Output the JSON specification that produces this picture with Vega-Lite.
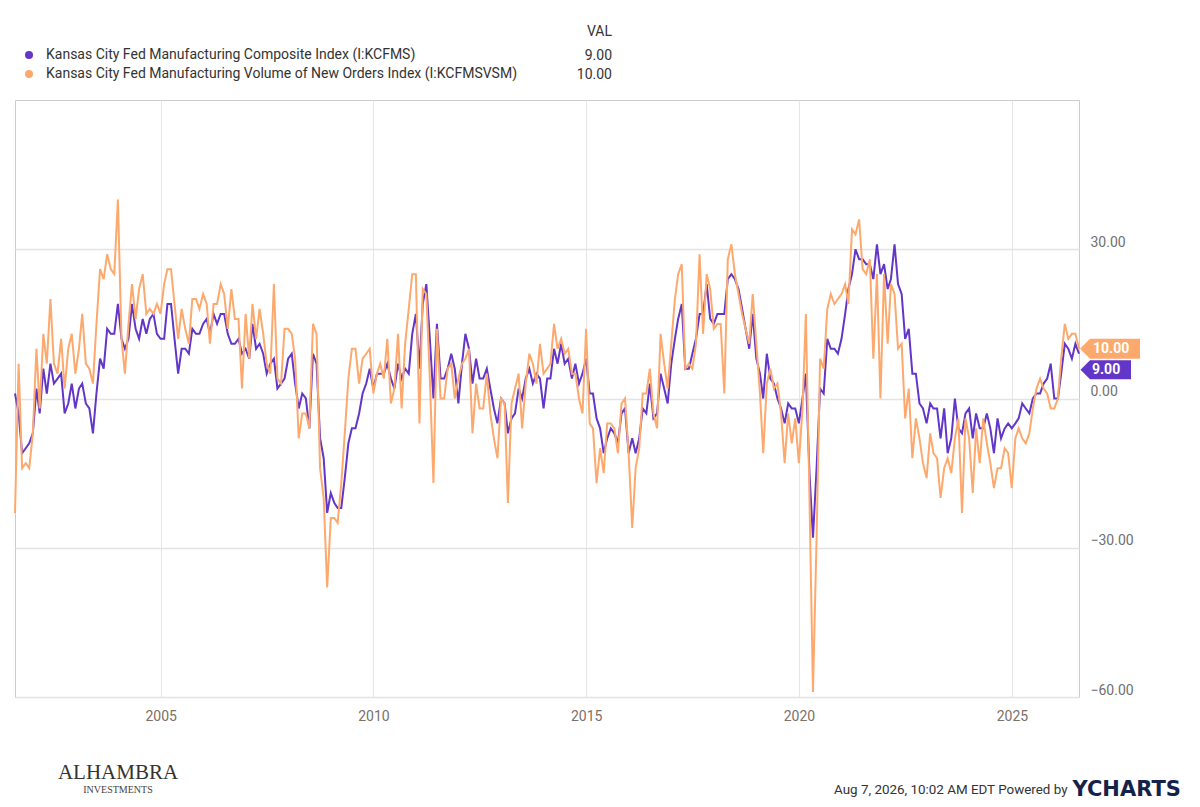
{
  "$schema": "https://vega.github.io/schema/vega-lite/v6.json",
  "width": 1064,
  "height": 597,
  "autosize": {"type": "none"},
  "padding": {"left": 15, "top": 100, "right": 121, "bottom": 110},
  "background": "#ffffff",
  "config": {"view": {"stroke": "#cccccc", "strokeWidth": 1}, "font": "Roboto"},
  "title": {
    "text": "ALHAMBRA",
    "subtitle": "INVESTMENTS",
    "orient": "bottom",
    "anchor": "middle",
    "dx": -429,
    "offset": -37,
    "font": "Liberation Serif",
    "fontSize": 21,
    "fontWeight": "normal",
    "color": "#333333",
    "subtitleFont": "Liberation Serif",
    "subtitleFontSize": 10,
    "subtitleColor": "#444444",
    "subtitlePadding": 2
  },
  "datasets": {
    "kc": [
      {"d":"2001-07-31","kcfms":1,"kcfmsvsm":-23},
      {"d":"2001-08-31","kcfms":-3,"kcfmsvsm":7},
      {"d":"2001-09-30","kcfms":-11,"kcfmsvsm":-14},
      {"d":"2001-10-31","kcfms":-10,"kcfmsvsm":-13},
      {"d":"2001-11-30","kcfms":-9,"kcfmsvsm":-14},
      {"d":"2001-12-31","kcfms":-7,"kcfmsvsm":-7},
      {"d":"2002-01-31","kcfms":2,"kcfmsvsm":10},
      {"d":"2002-02-28","kcfms":-3,"kcfmsvsm":-2},
      {"d":"2002-03-31","kcfms":6,"kcfmsvsm":13},
      {"d":"2002-04-30","kcfms":1,"kcfmsvsm":7},
      {"d":"2002-05-31","kcfms":7,"kcfmsvsm":20},
      {"d":"2002-06-30","kcfms":3,"kcfmsvsm":7},
      {"d":"2002-07-31","kcfms":4,"kcfmsvsm":5},
      {"d":"2002-08-31","kcfms":5,"kcfmsvsm":12},
      {"d":"2002-09-30","kcfms":-3,"kcfmsvsm":2},
      {"d":"2002-10-31","kcfms":-1,"kcfmsvsm":10},
      {"d":"2002-11-30","kcfms":3,"kcfmsvsm":13},
      {"d":"2002-12-31","kcfms":-2,"kcfmsvsm":5},
      {"d":"2003-01-31","kcfms":2,"kcfmsvsm":10},
      {"d":"2003-02-28","kcfms":3,"kcfmsvsm":17},
      {"d":"2003-03-31","kcfms":-1,"kcfmsvsm":7},
      {"d":"2003-04-30","kcfms":-2,"kcfmsvsm":6},
      {"d":"2003-05-31","kcfms":-7,"kcfmsvsm":3},
      {"d":"2003-06-30","kcfms":1,"kcfmsvsm":15},
      {"d":"2003-07-31","kcfms":8,"kcfmsvsm":26},
      {"d":"2003-08-31","kcfms":6,"kcfmsvsm":24},
      {"d":"2003-09-30","kcfms":14,"kcfmsvsm":29},
      {"d":"2003-10-31","kcfms":13,"kcfmsvsm":26},
      {"d":"2003-11-30","kcfms":13,"kcfmsvsm":25},
      {"d":"2003-12-31","kcfms":19,"kcfmsvsm":40},
      {"d":"2004-01-31","kcfms":12,"kcfmsvsm":12},
      {"d":"2004-02-29","kcfms":10,"kcfmsvsm":5},
      {"d":"2004-03-31","kcfms":12,"kcfmsvsm":15},
      {"d":"2004-04-30","kcfms":19,"kcfmsvsm":23},
      {"d":"2004-05-31","kcfms":14,"kcfmsvsm":16},
      {"d":"2004-06-30","kcfms":12,"kcfmsvsm":22},
      {"d":"2004-07-31","kcfms":16,"kcfmsvsm":25},
      {"d":"2004-08-31","kcfms":13,"kcfmsvsm":17},
      {"d":"2004-09-30","kcfms":16,"kcfmsvsm":18},
      {"d":"2004-10-31","kcfms":17,"kcfmsvsm":17},
      {"d":"2004-11-30","kcfms":13,"kcfmsvsm":19},
      {"d":"2004-12-31","kcfms":12,"kcfmsvsm":17},
      {"d":"2005-01-31","kcfms":12,"kcfmsvsm":23},
      {"d":"2005-02-28","kcfms":19,"kcfmsvsm":26},
      {"d":"2005-03-31","kcfms":19,"kcfmsvsm":26},
      {"d":"2005-04-30","kcfms":12,"kcfmsvsm":19},
      {"d":"2005-05-31","kcfms":5,"kcfmsvsm":12},
      {"d":"2005-06-30","kcfms":10,"kcfmsvsm":18},
      {"d":"2005-07-31","kcfms":10,"kcfmsvsm":14},
      {"d":"2005-08-31","kcfms":9,"kcfmsvsm":11},
      {"d":"2005-09-30","kcfms":14,"kcfmsvsm":20},
      {"d":"2005-10-31","kcfms":13,"kcfmsvsm":20},
      {"d":"2005-11-30","kcfms":13,"kcfmsvsm":18},
      {"d":"2005-12-31","kcfms":15,"kcfmsvsm":21},
      {"d":"2006-01-31","kcfms":16,"kcfmsvsm":19},
      {"d":"2006-02-28","kcfms":13,"kcfmsvsm":11},
      {"d":"2006-03-31","kcfms":17,"kcfmsvsm":19},
      {"d":"2006-04-30","kcfms":15,"kcfmsvsm":19},
      {"d":"2006-05-31","kcfms":17,"kcfmsvsm":23},
      {"d":"2006-06-30","kcfms":17,"kcfmsvsm":21},
      {"d":"2006-07-31","kcfms":13,"kcfmsvsm":14},
      {"d":"2006-08-31","kcfms":11,"kcfmsvsm":22},
      {"d":"2006-09-30","kcfms":11,"kcfmsvsm":16},
      {"d":"2006-10-31","kcfms":12,"kcfmsvsm":16},
      {"d":"2006-11-30","kcfms":9,"kcfmsvsm":2},
      {"d":"2006-12-31","kcfms":10,"kcfmsvsm":17},
      {"d":"2007-01-31","kcfms":8,"kcfmsvsm":8},
      {"d":"2007-02-28","kcfms":15,"kcfmsvsm":19},
      {"d":"2007-03-31","kcfms":10,"kcfmsvsm":12},
      {"d":"2007-04-30","kcfms":11,"kcfmsvsm":18},
      {"d":"2007-05-31","kcfms":9,"kcfmsvsm":13},
      {"d":"2007-06-30","kcfms":5,"kcfmsvsm":7},
      {"d":"2007-07-31","kcfms":7,"kcfmsvsm":5},
      {"d":"2007-08-31","kcfms":8,"kcfmsvsm":23},
      {"d":"2007-09-30","kcfms":2,"kcfmsvsm":4},
      {"d":"2007-10-31","kcfms":3,"kcfmsvsm":3},
      {"d":"2007-11-30","kcfms":4,"kcfmsvsm":14},
      {"d":"2007-12-31","kcfms":8,"kcfmsvsm":14},
      {"d":"2008-01-31","kcfms":9,"kcfmsvsm":13},
      {"d":"2008-02-29","kcfms":3,"kcfmsvsm":8},
      {"d":"2008-03-31","kcfms":-2,"kcfmsvsm":-8},
      {"d":"2008-04-30","kcfms":1,"kcfmsvsm":-3},
      {"d":"2008-05-31","kcfms":0,"kcfmsvsm":-3},
      {"d":"2008-06-30","kcfms":-6,"kcfmsvsm":-6},
      {"d":"2008-07-31","kcfms":9,"kcfmsvsm":15},
      {"d":"2008-08-31","kcfms":7,"kcfmsvsm":13},
      {"d":"2008-09-30","kcfms":-8,"kcfmsvsm":-14},
      {"d":"2008-10-31","kcfms":-12,"kcfmsvsm":-20},
      {"d":"2008-11-30","kcfms":-23,"kcfmsvsm":-38},
      {"d":"2008-12-31","kcfms":-19,"kcfmsvsm":-24},
      {"d":"2009-01-31","kcfms":-21,"kcfmsvsm":-24},
      {"d":"2009-02-28","kcfms":-22,"kcfmsvsm":-25},
      {"d":"2009-03-31","kcfms":-22,"kcfmsvsm":-17},
      {"d":"2009-04-30","kcfms":-16,"kcfmsvsm":-7},
      {"d":"2009-05-31","kcfms":-9,"kcfmsvsm":4},
      {"d":"2009-06-30","kcfms":-6,"kcfmsvsm":10},
      {"d":"2009-07-31","kcfms":-6,"kcfmsvsm":10},
      {"d":"2009-08-31","kcfms":-3,"kcfmsvsm":3},
      {"d":"2009-09-30","kcfms":1,"kcfmsvsm":8},
      {"d":"2009-10-31","kcfms":3,"kcfmsvsm":9},
      {"d":"2009-11-30","kcfms":6,"kcfmsvsm":10},
      {"d":"2009-12-31","kcfms":2,"kcfmsvsm":1},
      {"d":"2010-01-31","kcfms":5,"kcfmsvsm":5},
      {"d":"2010-02-28","kcfms":5,"kcfmsvsm":7},
      {"d":"2010-03-31","kcfms":5,"kcfmsvsm":4},
      {"d":"2010-04-30","kcfms":7,"kcfmsvsm":12},
      {"d":"2010-05-31","kcfms":4,"kcfmsvsm":-1},
      {"d":"2010-06-30","kcfms":2,"kcfmsvsm":2},
      {"d":"2010-07-31","kcfms":7,"kcfmsvsm":13},
      {"d":"2010-08-31","kcfms":4,"kcfmsvsm":-2},
      {"d":"2010-09-30","kcfms":6,"kcfmsvsm":11},
      {"d":"2010-10-31","kcfms":5,"kcfmsvsm":18},
      {"d":"2010-11-30","kcfms":13,"kcfmsvsm":25},
      {"d":"2010-12-31","kcfms":17,"kcfmsvsm":25},
      {"d":"2011-01-31","kcfms":6,"kcfmsvsm":-5},
      {"d":"2011-02-28","kcfms":19,"kcfmsvsm":22},
      {"d":"2011-03-31","kcfms":23,"kcfmsvsm":21},
      {"d":"2011-04-30","kcfms":12,"kcfmsvsm":4},
      {"d":"2011-05-31","kcfms":0,"kcfmsvsm":-17},
      {"d":"2011-06-30","kcfms":15,"kcfmsvsm":14},
      {"d":"2011-07-31","kcfms":4,"kcfmsvsm":0},
      {"d":"2011-08-31","kcfms":4,"kcfmsvsm":0},
      {"d":"2011-09-30","kcfms":6,"kcfmsvsm":6},
      {"d":"2011-10-31","kcfms":9,"kcfmsvsm":7},
      {"d":"2011-11-30","kcfms":6,"kcfmsvsm":0},
      {"d":"2011-12-31","kcfms":-1,"kcfmsvsm":4},
      {"d":"2012-01-31","kcfms":7,"kcfmsvsm":7},
      {"d":"2012-02-29","kcfms":13,"kcfmsvsm":8},
      {"d":"2012-03-31","kcfms":10,"kcfmsvsm":10},
      {"d":"2012-04-30","kcfms":3,"kcfmsvsm":-7},
      {"d":"2012-05-31","kcfms":8,"kcfmsvsm":3},
      {"d":"2012-06-30","kcfms":4,"kcfmsvsm":-2},
      {"d":"2012-07-31","kcfms":4,"kcfmsvsm":-2},
      {"d":"2012-08-31","kcfms":6,"kcfmsvsm":5},
      {"d":"2012-09-30","kcfms":2,"kcfmsvsm":-3},
      {"d":"2012-10-31","kcfms":-2,"kcfmsvsm":-8},
      {"d":"2012-11-30","kcfms":-5,"kcfmsvsm":-12},
      {"d":"2012-12-31","kcfms":0,"kcfmsvsm":0},
      {"d":"2013-01-31","kcfms":-1,"kcfmsvsm":-1},
      {"d":"2013-02-28","kcfms":-7,"kcfmsvsm":-21},
      {"d":"2013-03-31","kcfms":-4,"kcfmsvsm":-1},
      {"d":"2013-04-30","kcfms":-3,"kcfmsvsm":2},
      {"d":"2013-05-31","kcfms":2,"kcfmsvsm":5},
      {"d":"2013-06-30","kcfms":0,"kcfmsvsm":-6},
      {"d":"2013-07-31","kcfms":4,"kcfmsvsm":3},
      {"d":"2013-08-31","kcfms":6,"kcfmsvsm":9},
      {"d":"2013-09-30","kcfms":3,"kcfmsvsm":7},
      {"d":"2013-10-31","kcfms":5,"kcfmsvsm":3},
      {"d":"2013-11-30","kcfms":4,"kcfmsvsm":11},
      {"d":"2013-12-31","kcfms":-2,"kcfmsvsm":5},
      {"d":"2014-01-31","kcfms":4,"kcfmsvsm":6},
      {"d":"2014-02-28","kcfms":4,"kcfmsvsm":7},
      {"d":"2014-03-31","kcfms":10,"kcfmsvsm":15},
      {"d":"2014-04-30","kcfms":7,"kcfmsvsm":10},
      {"d":"2014-05-31","kcfms":11,"kcfmsvsm":12},
      {"d":"2014-06-30","kcfms":7,"kcfmsvsm":9},
      {"d":"2014-07-31","kcfms":8,"kcfmsvsm":10},
      {"d":"2014-08-31","kcfms":4,"kcfmsvsm":5},
      {"d":"2014-09-30","kcfms":7,"kcfmsvsm":5},
      {"d":"2014-10-31","kcfms":3,"kcfmsvsm":0},
      {"d":"2014-11-30","kcfms":5,"kcfmsvsm":-3},
      {"d":"2014-12-31","kcfms":8,"kcfmsvsm":14},
      {"d":"2015-01-31","kcfms":1,"kcfmsvsm":-5},
      {"d":"2015-02-28","kcfms":1,"kcfmsvsm":-6},
      {"d":"2015-03-31","kcfms":-4,"kcfmsvsm":-17},
      {"d":"2015-04-30","kcfms":-6,"kcfmsvsm":-10},
      {"d":"2015-05-31","kcfms":-11,"kcfmsvsm":-15},
      {"d":"2015-06-30","kcfms":-8,"kcfmsvsm":-5},
      {"d":"2015-07-31","kcfms":-6,"kcfmsvsm":-5},
      {"d":"2015-08-31","kcfms":-7,"kcfmsvsm":-6},
      {"d":"2015-09-30","kcfms":-9,"kcfmsvsm":-11},
      {"d":"2015-10-31","kcfms":-3,"kcfmsvsm":-1},
      {"d":"2015-11-30","kcfms":-2,"kcfmsvsm":0},
      {"d":"2015-12-31","kcfms":-11,"kcfmsvsm":-11},
      {"d":"2016-01-31","kcfms":-8,"kcfmsvsm":-26},
      {"d":"2016-02-29","kcfms":-11,"kcfmsvsm":-14},
      {"d":"2016-03-31","kcfms":-8,"kcfmsvsm":-10},
      {"d":"2016-04-30","kcfms":-2,"kcfmsvsm":1},
      {"d":"2016-05-31","kcfms":-3,"kcfmsvsm":1},
      {"d":"2016-06-30","kcfms":3,"kcfmsvsm":6},
      {"d":"2016-07-31","kcfms":-4,"kcfmsvsm":-3},
      {"d":"2016-08-31","kcfms":-3,"kcfmsvsm":-6},
      {"d":"2016-09-30","kcfms":5,"kcfmsvsm":13},
      {"d":"2016-10-31","kcfms":2,"kcfmsvsm":7},
      {"d":"2016-11-30","kcfms":-1,"kcfmsvsm":2},
      {"d":"2016-12-31","kcfms":7,"kcfmsvsm":11},
      {"d":"2017-01-31","kcfms":12,"kcfmsvsm":20},
      {"d":"2017-02-28","kcfms":16,"kcfmsvsm":25},
      {"d":"2017-03-31","kcfms":19,"kcfmsvsm":27},
      {"d":"2017-04-30","kcfms":6,"kcfmsvsm":6},
      {"d":"2017-05-31","kcfms":6,"kcfmsvsm":7},
      {"d":"2017-06-30","kcfms":9,"kcfmsvsm":6},
      {"d":"2017-07-31","kcfms":12,"kcfmsvsm":11},
      {"d":"2017-08-31","kcfms":17,"kcfmsvsm":29},
      {"d":"2017-09-30","kcfms":17,"kcfmsvsm":13},
      {"d":"2017-10-31","kcfms":23,"kcfmsvsm":25},
      {"d":"2017-11-30","kcfms":16,"kcfmsvsm":22},
      {"d":"2017-12-31","kcfms":15,"kcfmsvsm":14},
      {"d":"2018-01-31","kcfms":17,"kcfmsvsm":15},
      {"d":"2018-02-28","kcfms":17,"kcfmsvsm":15},
      {"d":"2018-03-31","kcfms":17,"kcfmsvsm":1},
      {"d":"2018-04-30","kcfms":24,"kcfmsvsm":28},
      {"d":"2018-05-31","kcfms":25,"kcfmsvsm":31},
      {"d":"2018-06-30","kcfms":24,"kcfmsvsm":25},
      {"d":"2018-07-31","kcfms":22,"kcfmsvsm":21},
      {"d":"2018-08-31","kcfms":18,"kcfmsvsm":17},
      {"d":"2018-09-30","kcfms":14,"kcfmsvsm":14},
      {"d":"2018-10-31","kcfms":10,"kcfmsvsm":11},
      {"d":"2018-11-30","kcfms":17,"kcfmsvsm":21},
      {"d":"2018-12-31","kcfms":8,"kcfmsvsm":11},
      {"d":"2019-01-31","kcfms":5,"kcfmsvsm":1},
      {"d":"2019-02-28","kcfms":0,"kcfmsvsm":-11},
      {"d":"2019-03-31","kcfms":9,"kcfmsvsm":3},
      {"d":"2019-04-30","kcfms":4,"kcfmsvsm":6},
      {"d":"2019-05-31","kcfms":3,"kcfmsvsm":2},
      {"d":"2019-06-30","kcfms":0,"kcfmsvsm":3},
      {"d":"2019-07-31","kcfms":-2,"kcfmsvsm":-3},
      {"d":"2019-08-31","kcfms":-5,"kcfmsvsm":-13},
      {"d":"2019-09-30","kcfms":-1,"kcfmsvsm":-3},
      {"d":"2019-10-31","kcfms":-2,"kcfmsvsm":-9},
      {"d":"2019-11-30","kcfms":-2,"kcfmsvsm":-4},
      {"d":"2019-12-31","kcfms":-5,"kcfmsvsm":-13},
      {"d":"2020-01-31","kcfms":0,"kcfmsvsm":-2},
      {"d":"2020-02-29","kcfms":5,"kcfmsvsm":17},
      {"d":"2020-03-31","kcfms":-15,"kcfmsvsm":-20},
      {"d":"2020-04-30","kcfms":-28,"kcfmsvsm":-59},
      {"d":"2020-05-31","kcfms":-14,"kcfmsvsm":-28},
      {"d":"2020-06-30","kcfms":2,"kcfmsvsm":8},
      {"d":"2020-07-31","kcfms":1,"kcfmsvsm":6},
      {"d":"2020-08-31","kcfms":12,"kcfmsvsm":18},
      {"d":"2020-09-30","kcfms":10,"kcfmsvsm":21},
      {"d":"2020-10-31","kcfms":10,"kcfmsvsm":19},
      {"d":"2020-11-30","kcfms":9,"kcfmsvsm":20},
      {"d":"2020-12-31","kcfms":12,"kcfmsvsm":21},
      {"d":"2021-01-31","kcfms":17,"kcfmsvsm":23},
      {"d":"2021-02-28","kcfms":22,"kcfmsvsm":19},
      {"d":"2021-03-31","kcfms":25,"kcfmsvsm":34},
      {"d":"2021-04-30","kcfms":30,"kcfmsvsm":33},
      {"d":"2021-05-31","kcfms":28,"kcfmsvsm":36},
      {"d":"2021-06-30","kcfms":28,"kcfmsvsm":26},
      {"d":"2021-07-31","kcfms":27,"kcfmsvsm":25},
      {"d":"2021-08-31","kcfms":27,"kcfmsvsm":28},
      {"d":"2021-09-30","kcfms":24,"kcfmsvsm":8},
      {"d":"2021-10-31","kcfms":31,"kcfmsvsm":25},
      {"d":"2021-11-30","kcfms":25,"kcfmsvsm":0},
      {"d":"2021-12-31","kcfms":27,"kcfmsvsm":25},
      {"d":"2022-01-31","kcfms":22,"kcfmsvsm":11},
      {"d":"2022-02-28","kcfms":24,"kcfmsvsm":23},
      {"d":"2022-03-31","kcfms":31,"kcfmsvsm":21},
      {"d":"2022-04-30","kcfms":23,"kcfmsvsm":10},
      {"d":"2022-05-31","kcfms":21,"kcfmsvsm":11},
      {"d":"2022-06-30","kcfms":12,"kcfmsvsm":-4},
      {"d":"2022-07-31","kcfms":14,"kcfmsvsm":2},
      {"d":"2022-08-31","kcfms":5,"kcfmsvsm":-12},
      {"d":"2022-09-30","kcfms":5,"kcfmsvsm":-4},
      {"d":"2022-10-31","kcfms":-1,"kcfmsvsm":-8},
      {"d":"2022-11-30","kcfms":-2,"kcfmsvsm":-13},
      {"d":"2022-12-31","kcfms":-5,"kcfmsvsm":-16},
      {"d":"2023-01-31","kcfms":-1,"kcfmsvsm":-7},
      {"d":"2023-02-28","kcfms":-2,"kcfmsvsm":-11},
      {"d":"2023-03-31","kcfms":-2,"kcfmsvsm":-12},
      {"d":"2023-04-30","kcfms":-8,"kcfmsvsm":-20},
      {"d":"2023-05-31","kcfms":-2,"kcfmsvsm":-14},
      {"d":"2023-06-30","kcfms":-11,"kcfmsvsm":-12},
      {"d":"2023-07-31","kcfms":-8,"kcfmsvsm":-15},
      {"d":"2023-08-31","kcfms":0,"kcfmsvsm":-8},
      {"d":"2023-09-30","kcfms":-6,"kcfmsvsm":-4},
      {"d":"2023-10-31","kcfms":-7,"kcfmsvsm":-23},
      {"d":"2023-11-30","kcfms":-3,"kcfmsvsm":-4},
      {"d":"2023-12-31","kcfms":-2,"kcfmsvsm":-8},
      {"d":"2024-01-31","kcfms":-8,"kcfmsvsm":-19},
      {"d":"2024-02-29","kcfms":-3,"kcfmsvsm":-6},
      {"d":"2024-03-31","kcfms":-6,"kcfmsvsm":-13},
      {"d":"2024-04-30","kcfms":-6,"kcfmsvsm":-4},
      {"d":"2024-05-31","kcfms":-3,"kcfmsvsm":-9},
      {"d":"2024-06-30","kcfms":-6,"kcfmsvsm":-13},
      {"d":"2024-07-31","kcfms":-11,"kcfmsvsm":-18},
      {"d":"2024-08-31","kcfms":-4,"kcfmsvsm":-14},
      {"d":"2024-09-30","kcfms":-8,"kcfmsvsm":-14},
      {"d":"2024-10-31","kcfms":-6,"kcfmsvsm":-10},
      {"d":"2024-11-30","kcfms":-5,"kcfmsvsm":-11},
      {"d":"2024-12-31","kcfms":-6,"kcfmsvsm":-18},
      {"d":"2025-01-31","kcfms":-5,"kcfmsvsm":-8},
      {"d":"2025-02-28","kcfms":-4,"kcfmsvsm":-6},
      {"d":"2025-03-31","kcfms":-1,"kcfmsvsm":-8},
      {"d":"2025-04-30","kcfms":-2,"kcfmsvsm":-9},
      {"d":"2025-05-31","kcfms":-3,"kcfmsvsm":-7},
      {"d":"2025-06-30","kcfms":0,"kcfmsvsm":-2},
      {"d":"2025-07-31","kcfms":1,"kcfmsvsm":2},
      {"d":"2025-08-31","kcfms":1,"kcfmsvsm":4},
      {"d":"2025-09-30","kcfms":3,"kcfmsvsm":2},
      {"d":"2025-10-31","kcfms":4,"kcfmsvsm":1},
      {"d":"2025-11-30","kcfms":7,"kcfmsvsm":-2},
      {"d":"2025-12-31","kcfms":0,"kcfmsvsm":-2},
      {"d":"2026-01-31","kcfms":0,"kcfmsvsm":0},
      {"d":"2026-02-28","kcfms":5,"kcfmsvsm":8},
      {"d":"2026-03-31","kcfms":11,"kcfmsvsm":15},
      {"d":"2026-04-30","kcfms":10,"kcfmsvsm":12},
      {"d":"2026-05-31","kcfms":8,"kcfmsvsm":13},
      {"d":"2026-06-30","kcfms":11,"kcfmsvsm":13},
      {"d":"2026-07-31","kcfms":9,"kcfmsvsm":10}
    ]
  },
  "data": {"name": "kc", "format": {"parse": {"d": "date:'%Y-%m-%d'"}}},
  "transform": [{"fold": ["kcfms", "kcfmsvsm"], "as": ["series", "value"]}],
  "encoding": {
    "x": {
      "field": "d",
      "type": "temporal",
      "scale": {"domain": [{"year": 2001, "month": 7, "date": 31}, {"year": 2026, "month": 7, "date": 31}]},
      "axis": {
        "tickCount": {"interval": "year", "step": 5},
        "format": "%Y",
        "grid": true,
        "gridColor": "#e6e6e6",
        "gridWidth": 1,
        "domain": false,
        "ticks": false,
        "tickSize": 0,
        "labelFont": "Roboto",
        "labelFontSize": 14,
        "labelColor": "#7a7168",
        "labelPadding": 12,
        "title": "Aug 7, 2026, 10:02 AM EDT Powered by",
        "titleX": 1052,
        "titleY": 92,
        "titleAlign": "right",
        "titleBaseline": "middle",
        "titleFont": "Roboto",
        "titleFontSize": 13.4,
        "titleFontWeight": "normal",
        "titleColor": "#333333"
      }
    },
    "y": {
      "field": "value",
      "type": "quantitative",
      "scale": {"domain": [-60, 60], "nice": false, "zero": false},
      "axis": {
        "orient": "right",
        "values": [-60, -30, 0, 30],
        "format": ".2f",
        "grid": true,
        "gridColor": "#e3e3e3",
        "gridWidth": 1.5,
        "domain": false,
        "ticks": false,
        "tickSize": 0,
        "labelFont": "Roboto",
        "labelFontSize": 14,
        "labelColor": "#707070",
        "labelPadding": 11,
        "labelOffset": -7,
        "labelAlign": "left",
        "labelBaseline": "middle",
        "title": "YCHARTS",
        "titleAngle": 0,
        "titleX": -7,
        "titleY": 689,
        "titleAlign": "left",
        "titleBaseline": "middle",
        "titleFont": "DejaVu Sans",
        "titleFontSize": 21,
        "titleFontWeight": "bold",
        "titleColor": "#15224a"
      }
    }
  },
  "layer": [
    {
      "mark": {"type": "line", "strokeWidth": 2},
      "encoding": {
        "color": {
          "field": "series",
          "type": "nominal",
          "scale": {"domain": ["kcfms", "kcfmsvsm"], "range": ["#6236c8", "#fda96e"]},
          "legend": {
            "orient": "none",
            "legendX": 7,
            "legendY": -52,
            "title": null,
            "symbolType": "circle",
            "symbolSize": 64,
            "symbolStrokeWidth": 0,
            "labelFont": "Roboto",
            "labelFontSize": 14,
            "labelColor": "#333333",
            "labelOffset": 10,
            "labelLimit": 0,
            "rowPadding": 5,
            "labelExpr": "datum.label == 'kcfms' ? 'Kansas City Fed Manufacturing Composite Index (I:KCFMS)' : 'Kansas City Fed Manufacturing Volume of New Orders Index (I:KCFMSVSM)'",
            "encode": {"symbols": {"update": {"fill": {"scale": "color", "field": "value"}, "strokeWidth": {"value": 0}, "opacity": {"value": 1}}}}
          }
        }
      }
    },
    {
      "transform": [{"filter": "year(datum.d) == 2026 && month(datum.d) == 6"}],
      "mark": {"type": "point", "opacity": 0, "size": 10},
      "encoding": {
        "shape": {
          "field": "value",
          "type": "nominal",
          "scale": {"domain": [9, 10], "range": ["circle", "circle"]},
          "legend": {
            "orient": "none",
            "legendX": 572,
            "legendY": -75,
            "title": "VAL",
            "titleFont": "Roboto",
            "titleFontSize": 14,
            "titleFontWeight": "normal",
            "titleColor": "#333333",
            "titleAlign": "right",
            "titleAnchor": "end",
            "titlePadding": 10,
            "labelFont": "Roboto",
            "labelFontSize": 14,
            "labelColor": "#333333",
            "labelAlign": "right",
            "labelOffset": 0,
            "labelExpr": "format(datum.value, '.2f')",
            "symbolSize": 0,
            "symbolOpacity": 0,
            "rowPadding": 5
          }
        }
      }
    },
    {
      "transform": [{"filter": "year(datum.d) == 2026 && month(datum.d) == 6 && datum.series == 'kcfmsvsm'"}],
      "mark": {"type": "tick", "orient": "horizontal", "size": 50, "thickness": 20, "xOffset": 36, "color": "#fda96e", "opacity": 1}
    },
    {
      "transform": [{"filter": "year(datum.d) == 2026 && month(datum.d) == 6 && datum.series == 'kcfmsvsm'"}],
      "mark": {"type": "point", "shape": "diamond", "filled": true, "size": 400, "opacity": 1, "strokeWidth": 0, "color": "#fda96e", "xOffset": 11}
    },
    {
      "transform": [{"filter": "year(datum.d) == 2026 && month(datum.d) == 6 && datum.series == 'kcfms'"}],
      "mark": {"type": "tick", "orient": "horizontal", "size": 41, "thickness": 19, "xOffset": 31.5, "yOffset": 16, "color": "#6236c8", "opacity": 1}
    },
    {
      "transform": [{"filter": "year(datum.d) == 2026 && month(datum.d) == 6 && datum.series == 'kcfms'"}],
      "mark": {"type": "point", "shape": "diamond", "filled": true, "size": 361, "opacity": 1, "strokeWidth": 0, "color": "#6236c8", "xOffset": 11, "yOffset": 16}
    },
    {
      "transform": [{"filter": "year(datum.d) == 2026 && month(datum.d) == 6 && datum.series == 'kcfmsvsm'"}],
      "mark": {"type": "text", "color": "#ffffff", "font": "Roboto", "fontSize": 14, "fontWeight": "bold", "align": "left", "baseline": "middle", "dx": 14},
      "encoding": {"text": {"field": "value", "type": "quantitative", "format": ".2f"}}
    },
    {
      "transform": [{"filter": "year(datum.d) == 2026 && month(datum.d) == 6 && datum.series == 'kcfms'"}],
      "mark": {"type": "text", "color": "#ffffff", "font": "Roboto", "fontSize": 14, "fontWeight": "bold", "align": "left", "baseline": "middle", "dx": 13, "dy": 16},
      "encoding": {"text": {"field": "value", "type": "quantitative", "format": ".2f"}}
    }
  ]
}
